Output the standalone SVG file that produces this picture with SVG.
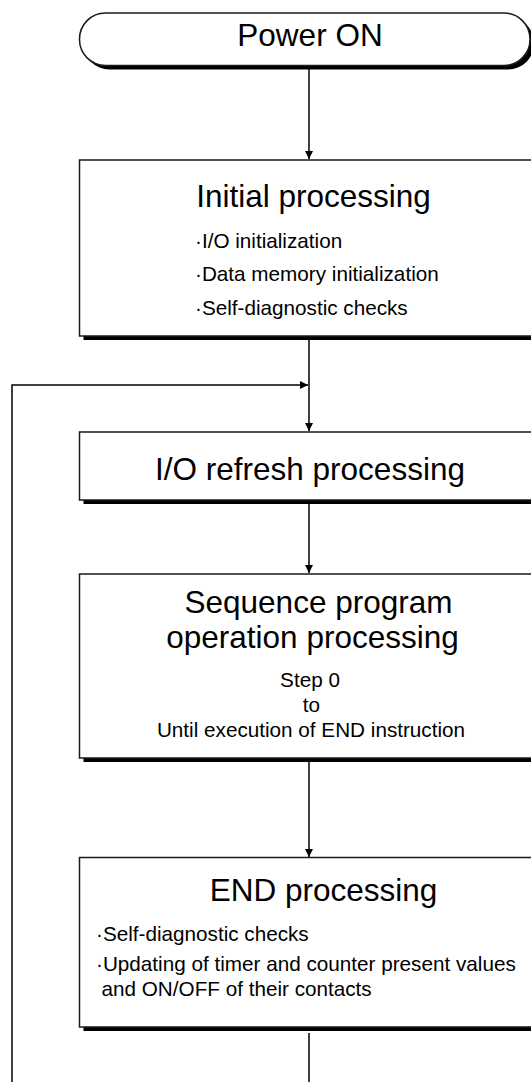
<svg xmlns="http://www.w3.org/2000/svg" width="531" height="1082" viewBox="0 0 531 1082">
<style>
.box{fill:#fff;stroke:#1a1a1a;stroke-width:1.5}
.shadow{fill:#000}
.title{font-family:"Liberation Sans",Arial,sans-serif;font-size:31.5px;fill:#000;text-anchor:middle}
.item{font-family:"Liberation Sans",Arial,sans-serif;font-size:20.7px;fill:#000}
.mid{text-anchor:middle}
.conn{fill:none;stroke:#000;stroke-width:1.5}
</style>
<defs>
<marker id="arr" viewBox="0 0 10 10" refX="10" refY="5" markerWidth="9" markerHeight="8" markerUnits="userSpaceOnUse" orient="auto">
<path d="M0,0 L10,5 L0,10 Z" fill="#000"/>
</marker>
</defs>
<rect width="531" height="1082" fill="#fff"/>
<g id="connectors">
<path class="conn" d="M309,69 V159" marker-end="url(#arr)"/>
<path class="conn" d="M309,340 V431" marker-end="url(#arr)"/>
<path class="conn" d="M309,504 V573" marker-end="url(#arr)"/>
<path class="conn" d="M309,762 V857" marker-end="url(#arr)"/>
<path class="conn" d="M309,1033 V1090 H12 V385 H308" marker-end="url(#arr)"/>
</g>
<g id="power-on">
<rect class="shadow" x="83.5" y="17" width="450.5" height="52.5" rx="26"/>
<rect class="box" x="79.5" y="13" width="450.5" height="52.5" rx="26"/>
<text class="title" x="310" y="46">Power ON</text>
</g>
<g id="initial-processing">
<rect class="shadow" x="83.5" y="164" width="480" height="176"/>
<rect class="box" x="79.5" y="160" width="480" height="176"/>
<text class="title" x="313.5" y="206.5">Initial processing</text>
<text class="item" x="195" y="247.5">·I/O initialization</text>
<text class="item" x="195" y="281">·Data memory initialization</text>
<text class="item" x="195" y="314.5">·Self-diagnostic checks</text>
</g>
<g id="io-refresh">
<rect class="shadow" x="83.5" y="436" width="480" height="68"/>
<rect class="box" x="79.5" y="432" width="480" height="68"/>
<text class="title" x="310" y="480">I/O refresh processing</text>
</g>
<g id="sequence-program">
<rect class="shadow" x="83.5" y="578" width="480" height="184"/>
<rect class="box" x="79.5" y="574" width="480" height="184"/>
<text class="title" x="318.5" y="613">Sequence program</text>
<text class="title" x="312.5" y="648">operation processing</text>
<text class="item mid" x="310" y="687">Step 0</text>
<text class="item mid" x="311.5" y="712">to</text>
<text class="item mid" x="311" y="737">Until execution of END instruction</text>
</g>
<g id="end-processing">
<rect class="shadow" x="83.5" y="861.5" width="480" height="169.5"/>
<rect class="box" x="79.5" y="857.5" width="480" height="169.5"/>
<text class="title" x="323.5" y="900.5">END processing</text>
<text class="item" x="96" y="941">·Self-diagnostic checks</text>
<text class="item" x="96" y="971">·Updating of timer and counter present values</text>
<text class="item" x="101.5" y="996">and ON/OFF of their contacts</text>
</g>
</svg>
